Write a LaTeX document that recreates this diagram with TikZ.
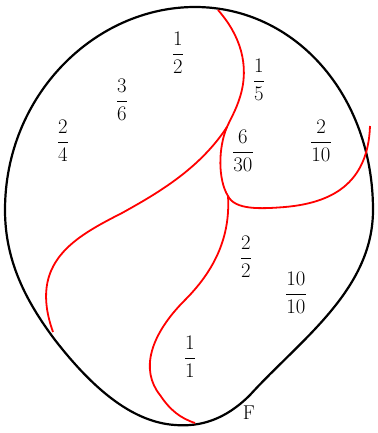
\documentclass[tikz,border=0pt]{standalone}
\usepackage{amsmath}

\begin{document}
\begin{tikzpicture}[x=1pt,y=-1pt,
  outline/.style={black, line width=2.2pt},
  cut/.style={red, line width=1.8pt},
  frac/.style={font=\fontsize{20}{24}\selectfont, inner sep=0pt}]
\useasboundingbox (0,0) rectangle (377,433);
% the region
\draw[outline] (5,210) .. controls (5,95) and (95,7) .. (195,7)
  .. controls (295,7) and (373,95) .. (373,210)
  .. controls (373,290) and (300,340) .. (250,395)
  .. controls (225,420) and (200,427) .. (175,425)
  .. controls (130,422) and (90,385) .. (55,340)
  .. controls (25,300) and (5,260) .. cycle;
% red cuts
\coordinate (J) at (227,127);
\coordinate (K) at (228,196);
\draw[cut] (218,10) .. controls (240,35) and (250,65) .. (240,97)
  .. controls (236,110) and (231,118) .. (J)
  .. controls (200,168) and (160,192) .. (122,213)
  .. controls (75,237) and (28,262) .. (53,332);
\draw[cut] (J) .. controls (218,148) and (218,180) .. (K)
  .. controls (235,210) and (260,209) .. (285,207)
  .. controls (330,203) and (368,185) .. (370,126);
\draw[cut] (K) .. controls (230,230) and (220,265) .. (185,300)
  .. controls (150,335) and (140,370) .. (160,395)
  .. controls (170,410) and (180,418) .. (195,423);
% labels
\node[frac] (half) at (178,53) {$\dfrac{1}{2}$};
\node[frac] (threesix) at (122,100) {$\dfrac{3}{6}$};
\node[frac] (twofour) at (63,141) {$\dfrac{2}{4}$};
\node[frac] (fifth) at (259,80) {$\dfrac{1}{5}$};
\node[frac] (sixthirty) at (243,151) {$\dfrac{6}{30}$};
\node[frac] (twoten) at (321,141) {$\dfrac{2}{10}$};
\node[frac] (twotwo) at (246,257) {$\dfrac{2}{2}$};
\node[frac] (tenten) at (296,293) {$\dfrac{10}{10}$};
\node[frac] (oneone) at (190,357) {$\dfrac{1}{1}$};
\node[font=\fontsize{20}{24}\selectfont] (F) at (249,413) {F};
\end{tikzpicture}
\end{document}
